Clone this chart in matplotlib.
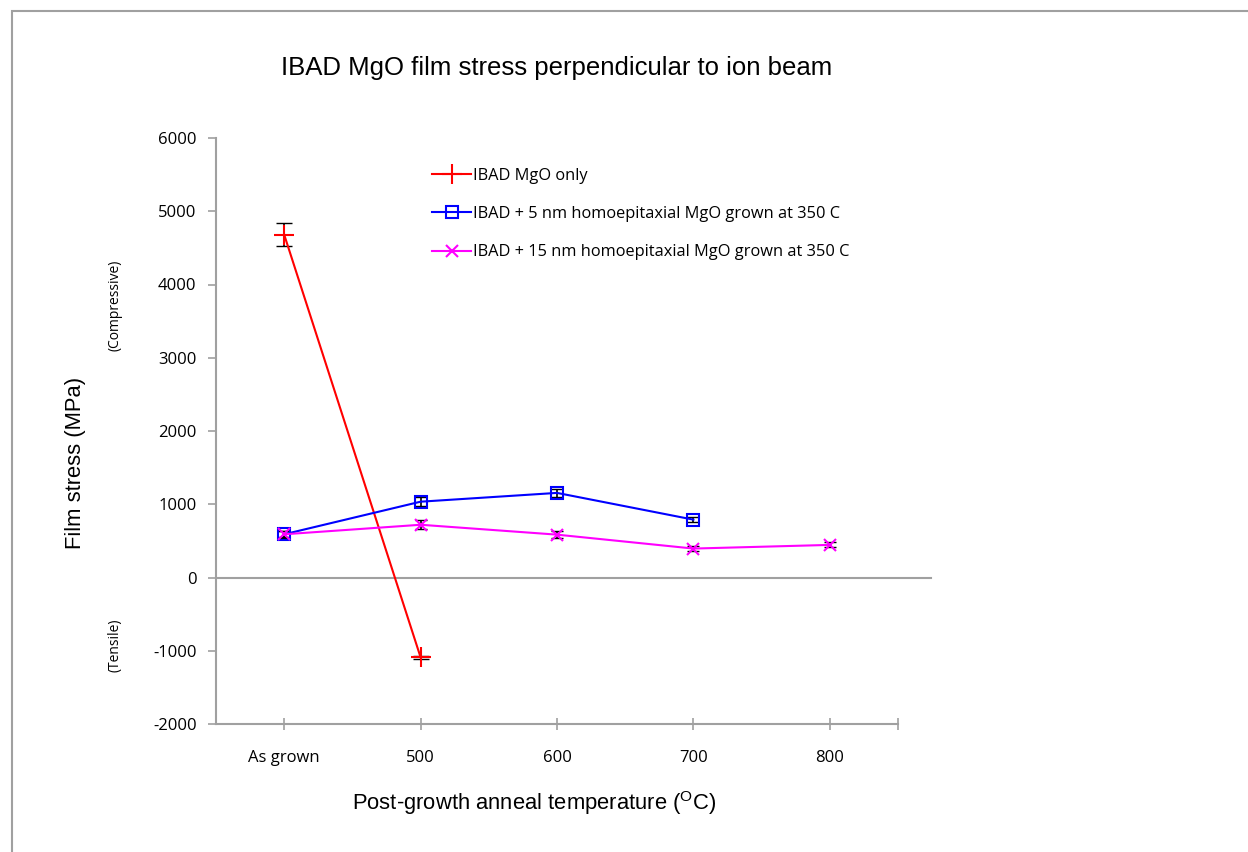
import matplotlib
matplotlib.use('Agg')
import matplotlib.pyplot as plt
from matplotlib.patches import Rectangle

# данные
categories = ['As grown', '500', '600', '700', '800']
ibad_only = [4680, -1090]
ibad_only_err = [160, 25]
ibad_5nm = [590, 1035, 1155, 790]
ibad_5nm_err = [45, 60, 55, 35]
ibad_15nm = [590, 720, 585, 395, 445]
ibad_15nm_err = [40, 60, 45, 30, 35]

plt.rcParams['mathtext.fontset'] = 'custom'
plt.rcParams['mathtext.rm'] = 'Liberation Sans'
plt.rcParams['axes.unicode_minus'] = False
tick_font = 'Open Sans'
label_font = 'Liberation Sans'
grey = '#a0a0a0'

fig = plt.figure(figsize=(12.48, 8.52), dpi=100)
ax = fig.add_axes([216/1248, 1 - 724/852, 682/1248, 586/852])

# рамка вокруг диаграммы
fig.patches.append(Rectangle((12/1248, -0.1), 1.2, 1.1 - 11/852, transform=fig.transFigure,
                             fill=False, edgecolor=grey, lw=1.5))

x_red = list(range(len(ibad_only)))
x_blue = list(range(len(ibad_5nm)))
x_mag = list(range(len(ibad_15nm)))

ax.errorbar(x_red, ibad_only, yerr=ibad_only_err, fmt='none', ecolor='black', capsize=6, elinewidth=1.2, zorder=3)
ax.errorbar(x_blue, ibad_5nm, yerr=ibad_5nm_err, fmt='none', ecolor='black', capsize=4, elinewidth=1.2, zorder=3)
ax.errorbar(x_mag, ibad_15nm, yerr=ibad_15nm_err, fmt='none', ecolor='black', capsize=4, elinewidth=1.2, zorder=3)

ax.plot(x_red, ibad_only, color='red', marker='+', markersize=15, mew=1.5, lw=1.5,
        label='IBAD MgO only', zorder=4)
ax.plot(x_blue, ibad_5nm, color='blue', marker='s', markersize=9, mfc='none', mew=1.5, lw=1.5,
        label='IBAD + 5 nm homoepitaxial MgO grown at 350 C', zorder=4)
ax.plot(x_mag, ibad_15nm, color='magenta', marker='x', markersize=9, mew=1.5, lw=1.5,
        label='IBAD + 15 nm homoepitaxial MgO grown at 350 C', zorder=4)

# нулевая линия, выходит за правый край оси
ax.axhline(0, xmin=0, xmax=715/682, color=grey, lw=1.5, clip_on=False, zorder=1)

ax.set_xlim(-0.5, 4.5)
ax.set_ylim(-2000, 6000)
ax.set_yticks(range(-2000, 6001, 1000))
ax.set_xticks(range(len(categories)))
ax.set_xticks([4.5], minor=True)
ax.set_xticklabels(categories, fontfamily=tick_font, fontsize=12)
for lab in ax.get_yticklabels():
    lab.set_fontfamily(tick_font)
    lab.set_fontsize(12)

for s in ['top', 'right']:
    ax.spines[s].set_visible(False)
for s in ['left', 'bottom']:
    ax.spines[s].set_color(grey)
    ax.spines[s].set_linewidth(1.5)
ax.tick_params(axis='y', direction='out', length=6, width=1.2, color=grey, pad=8)
ax.tick_params(axis='x', which='both', direction='inout', length=9, width=1.2, color=grey, pad=14)

fig.text(557/1248, 1 - 68/852, 'IBAD MgO film stress perpendicular to ion beam',
         ha='center', va='center', fontfamily=label_font, fontsize=18.5)
fig.text(534/1248, 1 - 803/852, 'Post-growth anneal temperature ($^{\\mathrm{O}}$C)',
         ha='center', va='center', fontfamily=label_font, fontsize=15.8)
fig.text(75/1248, 1 - 463/852, 'Film stress (MPa)', rotation=90,
         ha='center', va='center', fontfamily=label_font, fontsize=15.8)
fig.text(115/1248, 1 - 305/852, '(Compressive)', rotation=90,
         ha='center', va='center', fontfamily=tick_font, fontsize=10)
fig.text(115/1248, 1 - 645/852, '(Tensile)', rotation=90,
         ha='center', va='center', fontfamily=tick_font, fontsize=10)

ax.legend(loc='upper left', bbox_to_anchor=(432/1248, 1 - 168/852), bbox_transform=fig.transFigure,
          frameon=False, prop={'family': tick_font, 'size': 11.8}, handlelength=2.4,
          handletextpad=0.1, labelspacing=1.35, borderaxespad=0, borderpad=0)

fig.savefig('out.png', dpi=100)
